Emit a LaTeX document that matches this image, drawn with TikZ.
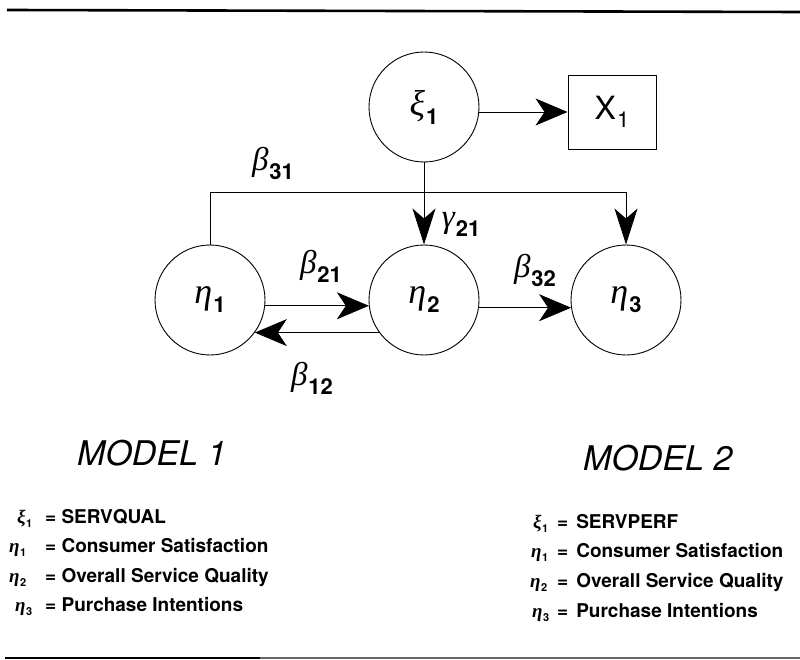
\documentclass[tikz,border=0pt]{standalone}
\usepackage{fontspec}
\setmainfont{TeX Gyre Heros}
\newfontfamily\greekfont{Liberation Serif}
\usetikzlibrary{arrows.meta}
% Greek symbols in a Times-like italic, subscripts in the sans font
\newcommand{\gk}[1]{{\greekfont\itshape #1}}
\newcommand{\bigsub}[2][-9pt]{\kern1pt\raisebox{#1}{\fontsize{22}{22}\selectfont\bfseries #2}}
\newcommand{\plainsub}[2][-8pt]{\kern1pt\raisebox{#1}{\fontsize{22}{22}\selectfont #2}}
\newcommand{\smallsub}[1]{\kern0.5pt\raisebox{-4pt}{\fontsize{11}{11}\selectfont\bfseries #1}}
\begin{document}
\begin{tikzpicture}[x=1pt,y=-1pt,
  latent/.style={circle,draw,line width=0.9pt,minimum size=110pt,inner sep=0pt,
    font=\fontsize{36}{36}\selectfont},
  obs/.style={rectangle,draw,line width=0.9pt,minimum width=88pt,minimum height=74pt,
    inner sep=0pt,font=\fontsize{32}{32}\selectfont},
  path/.style={line width=0.9pt,-{Stealth[length=32pt,width=27pt,inset=9pt]}},
  downpath/.style={line width=0.9pt,-{Stealth[length=36pt,width=23pt,inset=10pt]}},
  coef/.style={font=\fontsize{33}{33}\selectfont,inner sep=0pt},
  title/.style={font=\fontsize{34}{34}\selectfont\itshape,anchor=base west,inner sep=0pt},
  legend/.style={font=\fontsize{19}{19}\selectfont\bfseries,anchor=base west,inner sep=0pt}]

\useasboundingbox (0,0) rectangle (800,660);

% rules above and below
\draw[line width=2.6pt] (7,10) -- (800,12);
\draw[line width=2pt] (5,658) -- (260,658);
\draw[line width=1.4pt,black!60] (260,658) -- (800,658);

% constructs
\node[latent] (xi)   at (424,107) {\gk{ξ}\bigsub{1}};
\node[obs]    (x1)   at (612,112) {X\plainsub{1}};
\node[latent] (eta1) at (210,300) {\gk{η}\bigsub{1}};
\node[latent] (eta2) at (424,300) {\gk{η}\bigsub{2}};
\node[latent] (eta3) at (626,300) {\gk{η}\bigsub{3}};

% paths
\coordinate (b31) at (eta1.north |- 0,192);
\draw[path] (xi.east |- x1.west) -- (x1.west);
\draw[line width=0.9pt] (eta1.north) -- (b31);
\draw[downpath] (b31) -| (eta3.north);
\draw[downpath] (xi.south) -- (eta2.north);
\draw[path] (eta1.-6) -- (eta2.-174);
\draw[path] (eta2.-144) -- (eta1.-36);
\draw[path] (eta2.-8) -- (eta3.-172);

% coefficients
\node[coef] (l31) at (273,163) {\gk{β}\bigsub{31}};
\node[coef] (l21g) at (461,224) {\gk{γ}\bigsub{21}};
\node[coef] (l21) at (321,266) {\gk{β}\bigsub{21}};
\node[coef] (l32) at (535,270) {\gk{β}\bigsub{32}};
\node[coef] (l12) at (312,378) {\gk{β}\bigsub{12}};

% model titles
\node[title] (m1) at (77,465) {MODEL 1};
\node[title] (m2) at (583,470) {MODEL 2};

% legend, model 1
\node[legend] (a1) at (12,523) {\makebox[33pt][l]{\hspace{5pt}\gk{ξ}\smallsub{1}}= SERVQUAL};
\node[legend] (a2) at (9,552) {\makebox[36pt][l]{\gk{η}\smallsub{1}}= Consumer Satisfaction};
\node[legend] (a3) at (9,582) {\makebox[36pt][l]{\gk{η}\smallsub{2}}= Overall Service Quality};
\node[legend] (a4) at (9,611) {\makebox[36pt][l]{\hspace{6pt}\gk{η}\smallsub{3}}= Purchase Intentions};

% legend, model 2
\node[legend] (b1) at (533,528) {\makebox[24pt][l]{\gk{ξ}\smallsub{1}}=\hspace{8pt}SERVPERF};
\node[legend] (b2) at (531,557) {\makebox[26pt][l]{\gk{η}\smallsub{1}}=\hspace{8pt}Consumer Satisfaction};
\node[legend] (b3) at (530,587) {\makebox[27pt][l]{\gk{η}\smallsub{2}}=\hspace{8pt}Overall Service Quality};
\node[legend] (b4) at (532,617) {\makebox[25pt][l]{\gk{η}\smallsub{3}}=\hspace{8pt}Purchase Intentions};
\end{tikzpicture}
\end{document}
